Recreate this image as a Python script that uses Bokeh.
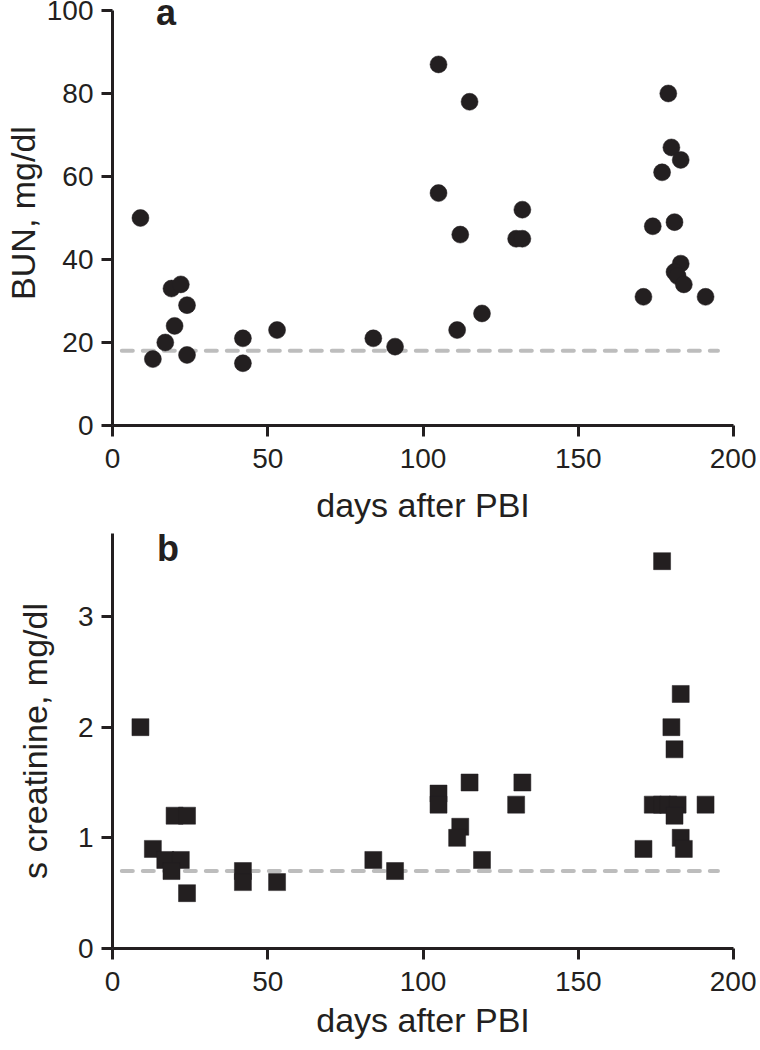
from bokeh.plotting import figure
from bokeh.layouts import column
from bokeh.models import Range1d, Label, FixedTicker
from bokeh.embed import file_html
from bokeh.resources import INLINE

# ---- data ----
bun_days = [9, 13, 17, 19, 22, 20, 24, 24, 42, 42, 53, 84, 91, 105, 115, 105, 112,
            111, 119, 130, 132, 132, 179, 180, 183, 177, 174, 181, 183, 181, 182,
            184, 171, 191]
bun_values = [50, 16, 20, 33, 34, 24, 29, 17, 21, 15, 23, 21, 19, 87, 78, 56, 46,
              23, 27, 45, 45, 52, 80, 67, 64, 61, 48, 49, 39, 37, 36, 34, 31, 31]

creat_days = [9, 13, 20, 24, 17, 22, 19, 24, 42, 42, 53, 84, 91, 105, 105, 115, 112,
              111, 119, 130, 132, 177, 183, 180, 181, 174, 177, 179, 182, 191, 181,
              171, 183, 184]
creat_values = [2.0, 0.9, 1.2, 1.2, 0.8, 0.8, 0.7, 0.5, 0.7, 0.6, 0.6, 0.8, 0.7,
                1.4, 1.3, 1.5, 1.1, 1.0, 0.8, 1.3, 1.5, 3.5, 2.3, 2.0, 1.8, 1.3,
                1.3, 1.3, 1.3, 1.3, 1.2, 0.9, 1.0, 0.9]

normal_line_days = [3, 195]
bun_normal = 18
creat_normal = 0.7

x_ticks = [0, 50, 100, 150, 200]
bun_ticks = [0, 20, 40, 60, 80, 100]
creat_ticks = [0, 1, 2, 3]

INK = "#231f20"
FONT = "Liberation Sans"


def make_fig(height, mbt, mbb, y_view_end, y_axis_end, yticks, ylabel,
             ylabel_standoff, xlabel_standoff):
    p = figure(width=756, height=height, x_range=Range1d(0, 200),
               y_range=Range1d(0, y_view_end), output_backend="svg",
               toolbar_location=None, min_border_left=111, min_border_right=23,
               min_border_top=mbt, min_border_bottom=mbb)
    p.outline_line_color = None
    p.grid.visible = False
    p.background_fill_color = "white"
    p.border_fill_color = "white"
    p.xaxis.ticker = FixedTicker(ticks=x_ticks)
    p.yaxis.ticker = FixedTicker(ticks=yticks)
    p.yaxis.bounds = (0, y_axis_end)
    for ax in (p.xaxis, p.yaxis):
        ax.axis_line_color = INK
        ax.axis_line_width = 3
        ax.major_tick_line_color = INK
        ax.major_tick_line_width = 3
        ax.major_tick_out = 11
        ax.major_tick_in = 0
        ax.minor_tick_line_color = None
        ax.major_label_text_font = FONT
        ax.major_label_text_font_size = "28px"
        ax.major_label_text_color = INK
        ax.axis_label_text_font = FONT
        ax.axis_label_text_font_size = "34px"
        ax.axis_label_text_font_style = "normal"
        ax.axis_label_text_color = INK
    p.xaxis.major_label_standoff = 12
    p.yaxis.major_label_standoff = 8
    p.xaxis.axis_label = "days after PBI"
    p.xaxis.axis_label_standoff = xlabel_standoff
    p.yaxis.axis_label = ylabel
    p.yaxis.axis_label_standoff = ylabel_standoff
    return p


# Panel a (view extends a little above 100 so the panel letter is not clipped)
pa = make_fig(529, 0, 104, 102.4, 100, bun_ticks, "BUN, mg/dl", 2, 15)
pa.line(normal_line_days, [bun_normal, bun_normal], line_color="#bdbdbd",
        line_width=4, line_dash="11 10", line_cap="round")
pa.scatter(bun_days, bun_values, marker="circle", size=17, fill_color=INK,
           line_color=INK, line_width=0.5)
pa.add_layout(Label(x=14.0, y=99.5, text="a", text_font=FONT,
                    text_font_style="bold", text_font_size="36px",
                    text_color=INK, text_baseline="alphabetic"))

# Panel b
pb = make_fig(518, 4, 99, 3.75, 3.75, creat_ticks, "s creatinine, mg/dl", 21, 7)
pb.line(normal_line_days, [creat_normal, creat_normal], line_color="#bdbdbd",
        line_width=4, line_dash="11 10", line_cap="round")
pb.scatter(creat_days, creat_values, marker="square", size=17, fill_color=INK,
           line_color=INK, line_width=0.5)
pb.add_layout(Label(x=14.3, y=3.61, text="b", text_font=FONT,
                    text_font_style="bold", text_font_size="36px",
                    text_color=INK, text_baseline="alphabetic"))

layout = column(pa, pb, spacing=0)
open("out.html", "w").write(file_html(layout, INLINE))
